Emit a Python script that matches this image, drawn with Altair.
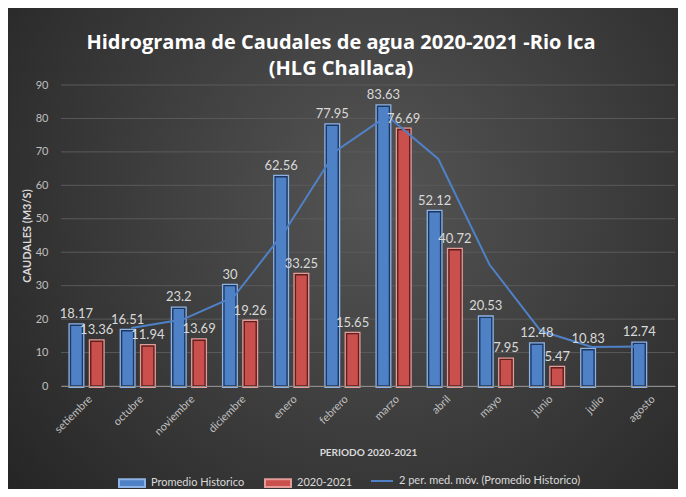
import altair as alt
import pandas as pd

# ---------------- data ----------------
meses = ["setiembre", "octubre", "noviembre", "diciembre", "enero", "febrero",
         "marzo", "abril", "mayo", "junio", "julio", "agosto"]
promedio_historico = [18.17, 16.51, 23.2, 30, 62.56, 77.95, 83.63, 52.12, 20.53, 12.48, 10.83, 12.74]
caudal_2020_2021 = [13.36, 11.94, 13.69, 19.26, 33.25, 15.65, 76.69, 40.72, 7.95, 5.47, None, None]
series = ["Promedio Historico", "2020-2021"]
serie_media_movil = "2 per. med. móv. (Promedio Historico)"
y_ticks = [0, 10, 20, 30, 40, 50, 60, 70, 80, 90]

titulo = ["Hidrograma de Caudales de agua 2020-2021 -Rio Ica", "(HLG Challaca)"]
y_titulo = "CAUDALES (M3/S)"
x_titulo = "PERIODO 2020-2021"

# ---------------- styles ----------------
relleno = ["#4F81C7", "#C9504D"]
borde = ["#8DB3E6", "#E59C99"]
interior = ["#1C3761", "#5E1F1D"]
color_media = "#4F81C7"
txt_claro = "#d9d9d9"
txt_eje = "#bfbfbf"
FONT = "Lato"

rows = []
for i, m in enumerate(meses):
    for s, vals in zip(series, [promedio_historico, caudal_2020_2021]):
        v = vals[i]
        rows.append({"mes": m, "orden": i, "serie": s, "valor": v,
                     "etiqueta": (f"{v:g}" if v is not None else None)})
df = pd.DataFrame(rows)
ma_df = pd.DataFrame({"mes": meses, "orden": list(range(len(meses))),
                      "valor": promedio_historico, "tipo": serie_media_movil})
grid_df = pd.DataFrame({"t": y_ticks})
bg_df = pd.DataFrame({"fondo": [1]})

W, H = 614, 301

x_axis = alt.Axis(labelAngle=-45, labelColor=txt_eje, labelFont=FONT, labelFontSize=11,
                  labelPadding=7, domainColor="#8c8c8c", domainWidth=1, ticks=False,
                  grid=False, titleColor=txt_claro, titleFont=FONT, titleFontSize=10,
                  titleFontWeight="bold", titlePadding=11, zindex=1)
x_scale = alt.Scale(paddingInner=0.369, paddingOuter=0.1845)


def X(**kw):
    return alt.X("mes:N", sort=meses, scale=x_scale, axis=x_axis, title=x_titulo, **kw)


xo = alt.XOffset("serie:N", sort=series, scale=alt.Scale(paddingInner=0.409, paddingOuter=0))
y_scale = alt.Scale(domain=[0, 90], nice=False)
y_axis = alt.Axis(values=y_ticks, grid=False, ticks=False, domain=False, labelColor=txt_eje,
                  labelFont=FONT, labelFontSize=11, labelPadding=13, titleColor=txt_claro,
                  titleFont=FONT, titleFontSize=11, titleFontWeight="bold", titlePadding=3,
                  zindex=1)


def Y(field):
    return alt.Y(field, scale=y_scale, axis=y_axis, title=y_titulo)


legend_barras = alt.Legend(orient="none", legendX=57, legendY=384, direction="horizontal",
                           symbolType="M-1,-0.3H1V0.3H-1Z", symbolSize=676,
                           symbolStrokeWidth=2, labelColor=txt_claro, labelFont=FONT,
                           labelFontSize=11, labelOffset=5, labelLimit=300,
                           columnPadding=16, padding=0, zindex=1)
legend_linea = alt.Legend(orient="none", legendX=309, legendY=384, direction="horizontal",
                          symbolType="stroke", symbolSize=484, symbolStrokeWidth=2,
                          labelColor=txt_claro, labelFont=FONT, labelFontSize=11,
                          labelOffset=5, labelLimit=400, padding=0, zindex=1)

bg = alt.Chart(bg_df).mark_rect(
    fill=alt.RadialGradient(
        gradient="radial",
        stops=[alt.GradientStop(color="#555555", offset=0),
               alt.GradientStop(color="#222222", offset=1)],
        x1=0.55, y1=0.42, r1=0, x2=0.55, y2=0.42, r2=0.75)
).encode(x=alt.value(-53), x2=alt.value(617), y=alt.value(-77), y2=alt.value(404))

grid = alt.Chart(grid_df).mark_rule(color="#5a5a5a", strokeWidth=1).encode(y=Y("t:Q"))

# light glow behind each bar
bars_glow = alt.Chart(df).mark_bar(strokeWidth=4).encode(
    x=X(), xOffset=xo, y=Y("valor:Q"),
    fill=alt.Fill("serie:N", sort=series, scale=alt.Scale(domain=series, range=relleno),
                  legend=legend_barras, title=None),
    stroke=alt.Stroke("serie:N", sort=series, scale=alt.Scale(domain=series, range=borde),
                      legend=legend_barras, title=None),
)

es_prom = alt.datum.serie == series[0]
bars_main = alt.Chart(df).mark_bar(strokeWidth=1.4).encode(
    x=X(), xOffset=xo, y=Y("valor:Q"),
    fill=alt.when(es_prom).then(alt.value(relleno[0])).otherwise(alt.value(relleno[1])),
    stroke=alt.when(es_prom).then(alt.value(interior[0])).otherwise(alt.value(interior[1])),
)

line = alt.Chart(ma_df).transform_window(
    mm="mean(valor)", n="count()", frame=[-1, 0], sort=[alt.SortField("orden")]
).transform_filter("datum.n == 2").mark_line(strokeWidth=2).encode(
    x=X(bandPosition=0.3), y=Y("mm:Q"),
    color=alt.Color("tipo:N", scale=alt.Scale(domain=[serie_media_movil], range=[color_media]),
                    legend=legend_linea, title=None),
)

labels = alt.Chart(df).mark_text(baseline="middle", dy=-11, font=FONT, fontSize=13,
                                 color=txt_claro).encode(
    x=X(), xOffset=xo, y=Y("valor:Q"), text="etiqueta:N")

chart = alt.layer(bg, grid, bars_glow, bars_main, line, labels).properties(
    width=W, height=H,
    title=alt.TitleParams(text=titulo, font="Open Sans", fontSize=20, fontWeight="bold",
                          color="white", anchor="middle", dx=-27, offset=-71,
                          lineHeight=26, zindex=1),
    padding={"left": 53, "top": 77, "right": 3, "bottom": 103},
    autosize=alt.AutoSizeParams(type="none"),
).configure(background="#2a2a2a").configure_view(stroke=None)

chart.save("out.html", embed_options={"renderer": "svg", "actions": False})
